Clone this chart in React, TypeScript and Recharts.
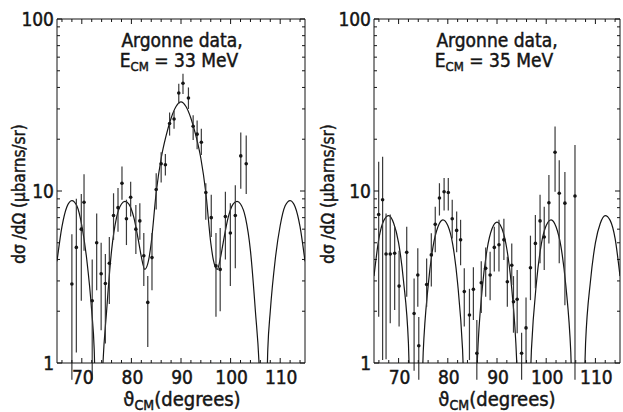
import React from "react";
import { ComposedChart, Line, Scatter, ErrorBar, XAxis, YAxis } from "recharts";

// theory curve, E_CM = 33 MeV
const curveAngles33 = [65, 66, 67, 68, 69, 70, 71, 72, 72.5, 73.3, 74.2, 75, 76, 77, 78, 78.7, 79.5, 80.5, 81.5, 82, 82.7, 83.5, 84, 85, 86, 87, 88, 89, 90, 91, 92, 93, 94, 95, 96, 96.5, 97.3, 98, 98.5, 99.5, 100.5, 101.3, 102, 103, 104, 105, 105.8, 106.7, 107.5, 108, 109, 110, 111, 112, 113, 114, 115];
const curveValues33 = [3.9, 6.2, 8.1, 8.8, 8.2, 6.3, 4.0, 2.0, 1.2, 0.1, 0.9, 2.0, 4.5, 7.0, 8.4, 8.7, 8.4, 7.0, 5.0, 4.15, 3.5, 4.0, 5.0, 9.8, 15.5, 21.0, 26.5, 31.0, 33.0, 31.0, 26.5, 21.0, 15.5, 9.8, 5.0, 4.0, 3.5, 4.15, 5.0, 7.0, 8.4, 8.7, 8.4, 7.0, 4.5, 2.0, 0.9, 0.1, 1.2, 2.0, 4.0, 6.3, 8.2, 8.8, 8.1, 6.2, 3.9];

// theory curve, E_CM = 35 MeV
const curveAngles35 = [65, 66, 67, 68, 69, 70, 71, 72, 73, 73.5, 74, 75, 76, 77, 78, 79, 80, 81, 82, 83, 84, 84.6, 85, 86, 87, 88, 89, 90, 91, 92, 93, 94, 95, 95.4, 96, 97, 98, 99, 100, 101, 102, 103, 104, 105, 106, 106.5, 107, 108, 109, 110, 111, 112, 113, 114, 115];
const curveValues35 = [3.2, 5.3, 6.75, 7.2, 6.5, 5.0, 3.0, 1.3, 0.14, 0.05, 0.14, 1.15, 2.8, 4.75, 6.2, 6.8, 6.3, 4.9, 2.9, 1.2, 0.2, 0.05, 0.1, 1.03, 2.7, 4.6, 6.05, 6.6, 6.05, 4.6, 2.7, 1.03, 0.1, 0.05, 0.2, 1.2, 2.9, 4.9, 6.3, 6.8, 6.2, 4.75, 2.8, 1.15, 0.14, 0.05, 0.14, 1.3, 3.0, 5.0, 6.5, 7.2, 6.75, 5.3, 3.2];

// Argonne data, 33 MeV
const angles33 = [68.0, 68.9, 69.9, 70.45, 72.1, 73.0, 73.9, 74.75, 75.55, 76.4, 77.3, 78.1, 79.0, 79.85, 80.9, 81.7, 82.5, 83.3, 84.15, 85.0, 86.0, 86.85, 87.7, 88.6, 89.55, 90.4, 91.5, 92.45, 93.25, 94.1, 95.0, 96.1, 97.05, 97.9, 98.95, 99.95, 100.95, 102.05, 103.15];
const values33 = [2.88, 4.7, 6.0, 8.6, 2.3, 5.0, 3.3, 2.9, 3.8, 7.2, 8.0, 11.1, 6.9, 9.2, 6.0, 6.7, 4.2, 2.25, 4.1, 10.2, 14.4, 14.2, 24.7, 26.2, 37.1, 42.3, 34.7, 23.8, 21.4, 19.2, 9.8, 7.0, 3.67, 3.5, 7.1, 5.7, 7.2, 16.0, 14.4];
const lows33 = [0.8, 1.15, 2.3, 4.5, 0.8, 2.65, 1.55, 1.3, 2.2, 5.2, 5.8, 8.9, 4.85, 7.1, 4.3, 5.2, 2.8, 1.24, 2.65, 7.8, 11.2, 12.3, 21.0, 23.0, 32.0, 36.7, 30.0, 19.8, 17.5, 16.2, 6.8, 5.4, 1.86, 2.0, 4.0, 2.8, 3.55, 10.3, 9.6];
const highs33 = [5.6, 9.0, 9.6, 12.5, 4.0, 7.4, 5.0, 4.3, 5.4, 9.7, 10.4, 13.9, 8.9, 11.3, 8.3, 8.5, 5.7, 3.2, 5.7, 12.7, 16.8, 16.4, 28.6, 29.3, 42.0, 48.0, 40.0, 27.6, 25.7, 23.0, 11.1, 9.5, 5.7, 6.1, 9.9, 8.5, 10.8, 21.9, 21.0];

// Argonne data, 35 MeV
const angles35 = [65.95, 66.75, 67.45, 68.3, 69.2, 70.1, 71.65, 73.15, 73.9, 74.1, 75.7, 76.65, 77.45, 78.3, 79.25, 80.1, 80.9, 81.8, 82.6, 83.35, 84.4, 85.2, 85.9, 86.8, 87.7, 88.6, 89.45, 90.4, 91.4, 92.1, 93.0, 93.35, 94.1, 95.0, 95.9, 96.8, 97.8, 98.75, 99.6, 100.55, 101.8, 102.65, 103.8, 105.85];
const values35 = [7.3, 8.9, 4.3, 4.3, 4.35, 2.8, 4.4, 1.94, 3.25, 1.26, 2.86, 4.25, 6.4, 9.1, 9.9, 9.8, 6.9, 5.9, 5.2, 2.6, 1.9, 2.68, 1.14, 2.93, 3.55, 3.25, 4.7, 4.87, 5.2, 2.97, 3.7, 2.27, 2.35, 1.14, 1.6, 3.58, 4.96, 6.7, 5.4, 8.55, 16.8, 9.7, 8.5, 9.35];
const lows35 = [1.86, 1.04, 1.05, 1.7, 2.03, 1.63, 2.43, 0.9, 2.12, 0.8, 2.12, 2.78, 4.4, 7.2, 7.7, 7.7, 5.3, 4.4, 3.7, 1.63, 1.04, 1.78, 0.8, 1.95, 2.43, 2.32, 3.4, 3.4, 3.97, 2.12, 2.84, 1.5, 1.49, 0.8, 1.0, 2.32, 2.72, 3.8, 3.47, 4.96, 9.9, 3.8, 2.17, 0.8];
const highs35 = [14.8, 15.8, 7.4, 7.3, 6.2, 4.5, 6.2, 3.1, 4.65, 1.85, 4.05, 5.68, 8.1, 11.1, 11.9, 11.9, 8.9, 7.6, 6.8, 3.55, 2.7, 3.6, 1.78, 3.9, 4.7, 4.44, 6.2, 6.8, 6.9, 4.15, 4.96, 3.2, 3.47, 1.5, 2.4, 5.5, 7.25, 9.5, 8.1, 12.4, 23.7, 15.1, 12.9, 18.5];

const xTicks = [66, 68, 70, 72, 74, 76, 78, 80, 82, 84, 86, 88, 90, 92, 94, 96, 98, 100, 102, 104, 106, 108, 110, 112, 114];
const yTicks = [1, 2, 3, 4, 5, 6, 7, 8, 9, 10, 20, 30, 40, 50, 60, 70, 80, 90, 100];

const FONT = "'DejaVu Sans Condensed', 'DejaVu Sans', sans-serif";
const INK = "#151515";
// scanned lettering is heavier than the regular face
const HEAVY = { stroke: INK, strokeWidth: 0.45 };

function XTick(props: any) {
  const { x, y, payload, side } = props;
  const v = payload.value;
  const major = v % 10 === 0;
  const len = major ? 5 : 3;
  const dir = side === "top" ? 1 : -1;
  return (
    <g>
      <line x1={x} x2={x} y1={y} y2={y + dir * len} stroke={INK} strokeWidth={1} />
      {side === "bottom" && major && (
        <text x={x + 1} y={y + 21} textAnchor="middle" fontSize={19} fontFamily={FONT} fill={INK} {...HEAVY}>
          {v}
        </text>
      )}
    </g>
  );
}

function YTick(props: any) {
  const { x, y, payload, side } = props;
  const v = payload.value;
  const major = v === 1 || v === 10 || v === 100;
  const len = major ? 5 : 3;
  const dir = side === "left" ? 1 : -1;
  return (
    <g>
      <line x1={x} x2={x + dir * len} y1={y} y2={y} stroke={INK} strokeWidth={1} />
      {side === "left" && major && (
        <text x={x - 3} y={y} dy="0.36em" textAnchor="end" fontSize={19} fontFamily={FONT} fill={INK} {...HEAVY}>
          {v}
        </text>
      )}
    </g>
  );
}

function Panel({
  width,
  marginLeft,
  marginRight,
  curveAngles,
  curveValues,
  angles,
  values,
  lows,
  highs,
}: any) {
  const curve = curveAngles.map((a: number, i: number) => ({ a, v: curveValues[i] }));
  const points = angles.map((a: number, i: number) => ({
    a,
    v: values[i],
    err: [values[i] - lows[i], highs[i] - values[i]],
  }));

  return (
    <ComposedChart
      width={width}
      height={412}
      margin={{ top: 17, right: marginRight, bottom: 19, left: marginLeft }}
    >
      <XAxis
        xAxisId="b"
        dataKey="a"
        type="number"
        domain={[65, 115]}
        allowDataOverflow
        ticks={xTicks}
        interval={0}
        height={30}
        tickSize={0}
        tickMargin={0}
        tickLine={false}
        axisLine={{ stroke: INK }}
        tick={(p: any) => <XTick {...p} side="bottom" />}
      />
      <XAxis
        xAxisId="t"
        orientation="top"
        dataKey="a"
        type="number"
        domain={[65, 115]}
        allowDataOverflow
        ticks={xTicks}
        interval={0}
        height={2}
        tickSize={0}
        tickMargin={0}
        tickLine={false}
        axisLine={{ stroke: INK }}
        tick={(p: any) => <XTick {...p} side="top" />}
      />
      <YAxis
        yAxisId="l"
        dataKey="v"
        type="number"
        scale="log"
        domain={[1, 100]}
        allowDataOverflow
        ticks={yTicks}
        interval={0}
        width={50}
        tickSize={0}
        tickMargin={0}
        tickLine={false}
        axisLine={{ stroke: INK }}
        tick={(p: any) => <YTick {...p} side="left" />}
      />
      <YAxis
        yAxisId="r"
        orientation="right"
        dataKey="v"
        type="number"
        scale="log"
        domain={[1, 100]}
        allowDataOverflow
        ticks={yTicks}
        interval={0}
        width={2}
        tickSize={0}
        tickMargin={0}
        tickLine={false}
        axisLine={{ stroke: INK }}
        tick={(p: any) => <YTick {...p} side="right" />}
      />
      <Line
        xAxisId="b"
        yAxisId="l"
        data={curve}
        dataKey="v"
        type="monotone"
        dot={false}
        stroke={INK}
        strokeWidth={1.2}
        isAnimationActive={false}
      />
      <Scatter
        xAxisId="b"
        yAxisId="l"
        data={points}
        dataKey="v"
        isAnimationActive={false}
        shape={(p: any) => <circle cx={p.cx} cy={p.cy} r={1.8} fill={INK} />}
      >
        <ErrorBar dataKey="err" direction="y" width={0} stroke="#3a3a3a" strokeWidth={1.2} />
      </Scatter>
    </ComposedChart>
  );
}

function Texts({ cx, energy, titleX }: { cx: number; energy: string; titleX: number }) {
  return (
    <g fontFamily={FONT} fill={INK} {...HEAVY}>
      <text x={cx} y={47} textAnchor="middle" fontSize={19}>
        Argonne data,
      </text>
      <text x={cx - 3} y={67} textAnchor="middle" fontSize={19}>
        E
        <tspan fontSize={13} dy={4}>CM</tspan>
        <tspan dy={-4}> = {energy} MeV</tspan>
      </text>
      <text
        x={titleX}
        y={194}
        transform={`rotate(-90 ${titleX} 194)`}
        textAnchor="middle"
        dominantBaseline="central"
        fontSize={17}
      >
        dσ /dΩ (μbarns/sr)
      </text>
      <text x={cx} y={406} textAnchor="middle" fontSize={20}>
        ϑ
        <tspan fontSize={14} dy={4}>CM</tspan>
        <tspan dy={-4}>(degrees)</tspan>
      </text>
    </g>
  );
}

export default function App() {
  return (
    <div style={{ position: "absolute", left: 0, top: 0, width: 623, height: 412, background: "#fff" }}>
      <div style={{ position: "absolute", left: 0, top: 0 }}>
        <Panel
          width={311}
          marginLeft={7}
          marginRight={4}
          curveAngles={curveAngles33}
          curveValues={curveValues33}
          angles={angles33}
          values={values33}
          lows={lows33}
          highs={highs33}
        />
      </div>
      <div style={{ position: "absolute", left: 311, top: 0 }}>
        <Panel
          width={312}
          marginLeft={13}
          marginRight={1}
          curveAngles={curveAngles35}
          curveValues={curveValues35}
          angles={angles35}
          values={values35}
          lows={lows35}
          highs={highs35}
        />
      </div>
      <svg
        width={623}
        height={412}
        style={{ position: "absolute", left: 0, top: 0, pointerEvents: "none" }}
      >
        <Texts cx={182} energy="33" titleX={19} />
        <Texts cx={497} energy="35" titleX={328} />
      </svg>
    </div>
  );
}
